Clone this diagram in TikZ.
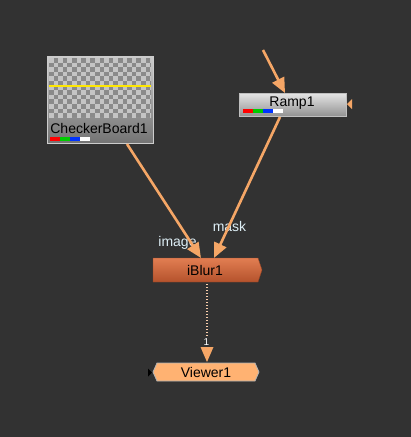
\documentclass[tikz,border=0pt]{standalone}
\usepackage{fontspec}
\setmainfont{Liberation Sans}
\usetikzlibrary{arrows.meta,shapes.geometric}
\definecolor{bg}{HTML}{323232}
\definecolor{wire}{HTML}{F5A666}
\definecolor{lbl}{HTML}{DDEEF5}
\definecolor{blurtop}{HTML}{E27E52}
\definecolor{blurbot}{HTML}{B4522C}
\definecolor{viewer}{HTML}{FFB272}
\definecolor{chkdark}{HTML}{8A8A8A}
\definecolor{chklight}{HTML}{C4C4C4}
\tikzset{
  conn/.style={draw=wire, line width=2.6pt, -{Triangle[length=15pt,width=13pt]}},
  nodetext/.style={font=\fontsize{14}{15}\selectfont, text=black, inner sep=0pt},
  porttext/.style={font=\fontsize{14}{15}\selectfont, text=lbl, inner sep=0pt},
  box/.style={inner sep=0pt, outer sep=0pt, draw=none},
}
\begin{document}
\begin{tikzpicture}[x=1pt,y=-1pt]
\fill[bg] (0,0) rectangle (411,437);
\useasboundingbox (0,0) rectangle (411,437);

% ---- CheckerBoard1
\node[box, minimum width=106pt, minimum height=87pt, anchor=north west] (cb) at (47,56) {};
\shade[top color=gray!40, bottom color=gray!85!black!95, draw=gray!40] (47,56) rectangle (153,143);
\begin{scope}
\clip (49,58) rectangle (151,117);
\fill[chkdark] (49,58) rectangle (151,117);
\foreach \i in {0,...,22}{
  \foreach \j in {0,...,13}{
    \pgfmathtruncatemacro\k{mod(\i+\j,2)}
    \ifnum\k=0 \fill[chklight] ({49+4.6*\i},{58+4.6*\j}) rectangle ++(4.6,4.6); \fi
  }
}
\end{scope}
\draw[yellow!90!orange, line width=2pt] (49,86) -- (151,86);
\node[nodetext] (cblabel) at (99,128) {CheckerBoard1};
\fill[red] (50,137) rectangle (60,141);
\fill[green!80!black] (60,137) rectangle (70,141);
\fill[blue!80!cyan] (70,137) rectangle (80,141);
\fill[white] (80,137) rectangle (90,141);
\coordinate (cbout) at (127,144);

% ---- Ramp1
\node[box, minimum width=107pt, minimum height=23pt, anchor=north west] (ramp) at (239,93) {};
\shade[top color=gray!20, bottom color=gray!85, draw=gray!50] (239,93) rectangle (346,116);
\node[nodetext] (ramplabel) at (292,103) {Ramp1};
\fill[red] (243,109) rectangle (253,113);
\fill[green!80!black] (253,109) rectangle (263,113);
\fill[blue!80!cyan] (263,109) rectangle (273,113);
\fill[white] (273,109) rectangle (283,113);
\fill[wire] (347,104) -- (352,99) -- (352,109) -- cycle;
\coordinate (rampin) at (263,50);
\coordinate (rampinend) at (285,93);
\coordinate (rampout) at (280,117);

% ---- iBlur1
\node[box, minimum width=109pt, minimum height=24pt, anchor=north west] (blur) at (153,258) {};
\shade[top color=blurtop, bottom color=blurbot, draw=blurbot!80!black]
  (153,258) -- (258,258) -- (262,270) -- (258,282) -- (153,282) -- cycle;
\node[nodetext] (blurlabel) at (205,270.5) {iBlur1};
\coordinate (blurimg) at (201,258);
\coordinate (blurmask) at (214,258);
\coordinate (blurout) at (207,284);
\node[porttext] (imglbl) at (177.5,243) {image};
\node[porttext] (masklbl) at (229.5,226) {mask};

% ---- Viewer1
\node[box, minimum width=106pt, minimum height=18pt, anchor=north west] (viewer) at (153,363) {};
\fill[viewer, draw=gray!60, line width=0.8pt]
  (157,363) -- (255,363) -- (259,372) -- (255,381) -- (157,381) -- (153,372) -- cycle;
\node[nodetext] (viewerlabel) at (206,372.5) {Viewer1};
\fill[black] (148,368.5) -- (152,372.5) -- (148,376.5) -- cycle;
\coordinate (viewin) at (207,362);

% ---- connectors
\draw[conn] (rampin) -- (rampinend);
\draw[conn] (cbout) -- (blurimg);
\draw[conn] (rampout) -- (blurmask);
\draw[draw=wire!55!white, line width=2pt, dash pattern=on 1.2pt off 1.8pt] (blurout) -- (207,337);
\fill[wire] (200.5,347) -- (213.5,347) -- (viewin) -- cycle;
\node[font=\fontsize{10}{11}\selectfont, text=white, inner sep=0pt] (one) at (206.5,342) {1};
\end{tikzpicture}
\end{document}
